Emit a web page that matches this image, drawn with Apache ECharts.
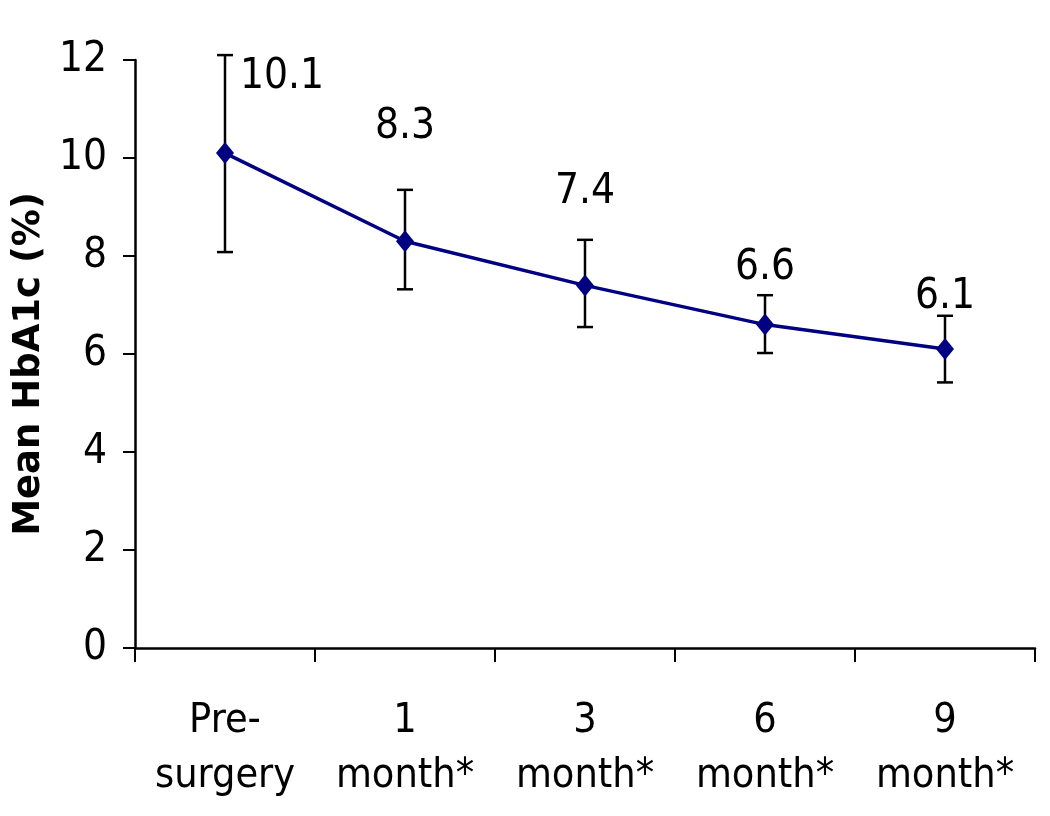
<!DOCTYPE html>
<html><head><meta charset="utf-8">
<script src="https://cdn.jsdelivr.net/npm/echarts@6/dist/echarts.min.js"></script>
<style>html,body{margin:0;padding:0;background:#fff}#c{width:1050px;height:816px}</style>
</head><body><div id="c"></div>
<script>
const categories = ['Pre-\nsurgery', '1\nmonth*', '3\nmonth*', '6\nmonth*', '9\nmonth*'];
const means = [10.1, 8.3, 7.4, 6.6, 6.1];
const upper = [12.1, 9.35, 8.33, 7.2, 6.78];
const lower = [8.08, 7.32, 6.55, 6.02, 5.42];
const valueLabels = ['10.1', '8.3', '7.4', '6.6', '6.1'];
const yTicks = [0, 2, 4, 6, 8, 10, 12];

// pixel offsets of the value labels (styling only)
const labelOffsets = [[57, -76], [0, -114], [0, -93], [0, -57], [0, -52]];

const FONT = '"Liberation Sans Narrow", "DejaVu Sans Condensed", "Arial Narrow", sans-serif';
const chart = echarts.init(document.getElementById('c'));
chart.setOption({
  animation: false,
  grid: {left: 135, right: 15, top: 60, bottom: 168},
  xAxis: {
    type: 'category', data: categories, boundaryGap: true,
    axisLine: {lineStyle: {color: '#000', width: 2.5}},
    axisTick: {show: true, alignWithLabel: false, interval: 0, length: 14, lineStyle: {color: '#000', width: 2}},
    axisLabel: {color: '#000', fontFamily: FONT, fontSize: 41, lineHeight: 55, margin: 46, interval: 0}
  },
  yAxis: {
    type: 'value', min: 0, max: 12, interval: 2,
    name: 'Mean HbA1c (%)', nameLocation: 'middle', nameGap: 84,
    nameTextStyle: {fontFamily: '"DejaVu Sans", Verdana, sans-serif', fontWeight: 'bold', fontSize: 37, color: '#000', padding: [0, 20, 0, 0]},
    axisLine: {show: true, lineStyle: {color: '#000', width: 2.5}},
    axisTick: {show: true, length: 12, lineStyle: {color: '#000', width: 2}},
    splitLine: {show: false},
    axisLabel: {color: '#000', fontFamily: FONT, fontSize: 42, margin: 28,
      formatter: v => yTicks.includes(v) ? String(v) : ''}
  },
  series: [
    {
      type: 'custom',
      data: categories.map((c, i) => [i, lower[i], upper[i]]),
      renderItem: (params, api) => {
        const x = api.value(0);
        const lo = api.coord([x, api.value(1)]);
        const hi = api.coord([x, api.value(2)]);
        const cap = 8;
        const st = {stroke: '#000', lineWidth: 2.5};
        return {type: 'group', children: [
          {type: 'line', shape: {x1: lo[0], y1: lo[1], x2: hi[0], y2: hi[1]}, style: st},
          {type: 'line', shape: {x1: lo[0] - cap, y1: lo[1], x2: lo[0] + cap, y2: lo[1]}, style: st},
          {type: 'line', shape: {x1: hi[0] - cap, y1: hi[1], x2: hi[0] + cap, y2: hi[1]}, style: st}
        ]};
      },
      z: 1
    },
    {
      type: 'line', data: means, symbol: 'diamond', symbolSize: [18, 22],
      lineStyle: {color: '#000080', width: 3.5},
      itemStyle: {color: '#000080'},
      z: 3
    },
    {
      type: 'custom',
      data: means.map((m, i) => [i, m]),
      renderItem: (params, api) => {
        const i = params.dataIndex;
        const p = api.coord([api.value(0), api.value(1)]);
        return {type: 'text', x: p[0] + labelOffsets[i][0], y: p[1] + labelOffsets[i][1],
          style: {text: valueLabels[i], fontFamily: FONT, fontSize: 42, fill: '#000', align: 'center', verticalAlign: 'middle'}};
      },
      z: 4
    }
  ]
});
</script></body></html>
